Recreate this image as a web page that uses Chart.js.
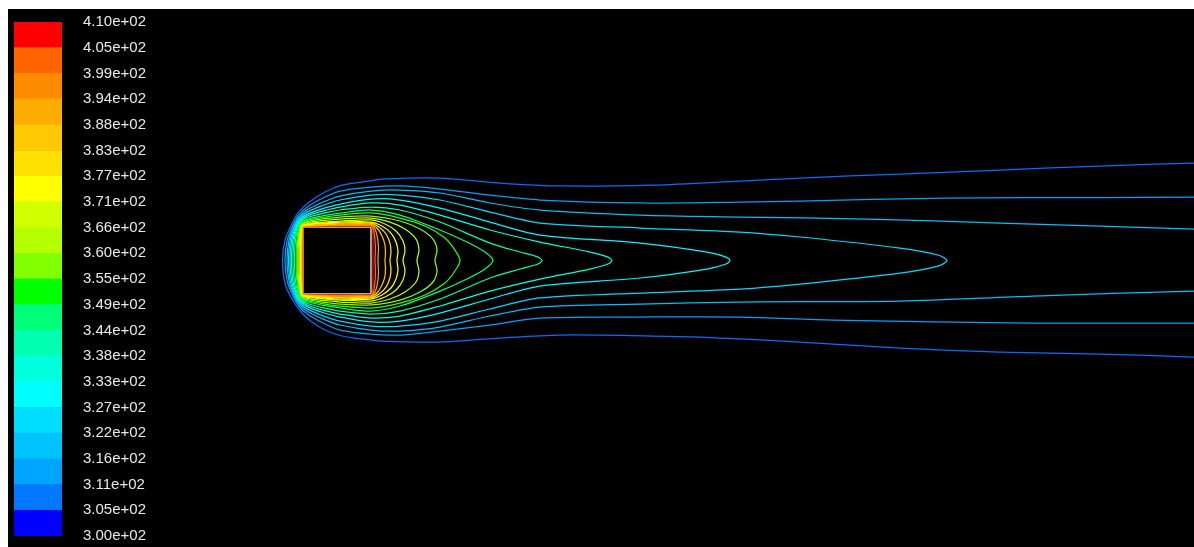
<!DOCTYPE html>
<html>
<head>
<meta charset="utf-8">
<title>Contours of Static Temperature (k)</title>
<script src="https://cdn.jsdelivr.net/npm/chart.js@4/dist/chart.umd.min.js"></script>
<style>
  html, body { margin: 0; padding: 0; background: #ffffff; }
  #frame { position: absolute; left: 8px; top: 9px; width: 1186px; height: 538px; background: #000000; }
  #field { position: absolute; left: 8px; top: 9px; }
  #legendBar { position: absolute; left: 0; top: 0; }
</style>
</head>
<body>
<div id="frame"></div>
<canvas id="field" width="1186" height="538"></canvas>
<canvas id="legendBar" width="200" height="547"></canvas>
<script>
// ---- colour scale (K) ----
const levels = [300, 305.5, 311, 316.5, 322, 327.5, 333, 338.5, 344, 349.5, 355,
                360.5, 366, 371.5, 377, 382.5, 388, 393.5, 399, 404.5, 410];
const tickLabels = ['3.00e+02', '3.05e+02', '3.11e+02', '3.16e+02', '3.22e+02', '3.27e+02', '3.33e+02',
                    '3.38e+02', '3.44e+02', '3.49e+02', '3.55e+02', '3.60e+02', '3.66e+02', '3.71e+02',
                    '3.77e+02', '3.83e+02', '3.88e+02', '3.94e+02', '3.99e+02', '4.05e+02', '4.10e+02'];
const bandColors = ['rgb(0,0,255)', 'rgb(0,120,255)', 'rgb(0,165,255)', 'rgb(0,195,255)', 'rgb(0,222,255)',
                    'rgb(0,255,255)', 'rgb(0,255,220)', 'rgb(0,255,175)', 'rgb(0,255,120)', 'rgb(0,255,0)',
                    'rgb(130,255,0)', 'rgb(180,255,0)', 'rgb(210,255,0)', 'rgb(255,255,0)', 'rgb(255,225,0)',
                    'rgb(255,200,0)', 'rgb(255,172,0)', 'rgb(255,140,0)', 'rgb(255,100,0)', 'rgb(255,0,0)'];

// ---- square cylinder wall, x/D and y/D ----
const cylinderWall = [[0, 0.493], [1, 0.493], [1, -0.493], [0, -0.493], [0, 0.493]];

// ---- isotherms, x/D and y/D; upper and lower branches start at the front stagnation line ----
const iso311Upper = [[-0.301,0],[-0.265,0.301],[-0.162,0.537],[-0.074,0.699],[0.074,0.846],[0.324,1.007],[0.574,1.110],[0.868,1.154],[1.206,1.199],[2.015,1.213],[2.897,1.140],[3.779,1.096],[5.147,1.110],[6.426,1.169],[7.309,1.213],[8.779,1.272],[10.250,1.331],[11.721,1.390],[13.103,1.434]];
const iso311Lower = [[-0.301,0],[-0.265,-0.331],[-0.162,-0.566],[-0.015,-0.772],[0.132,-0.904],[0.324,-1.022],[0.574,-1.110],[0.868,-1.154],[1.162,-1.184],[2.015,-1.199],[2.897,-1.140],[3.779,-1.096],[5.147,-1.110],[5.838,-1.125],[6.426,-1.154],[7.309,-1.199],[8.779,-1.287],[10.250,-1.346],[11.721,-1.375],[13.103,-1.419]];

const iso316Upper = [[-0.265,0],[-0.232,0.301],[-0.142,0.530],[-0.065,0.669],[0.074,0.795],[0.324,0.934],[0.544,1.022],[1.000,1.081],[1.426,1.096],[2.015,1.051],[2.750,0.963],[3.485,0.890],[4.956,0.846],[6.426,0.860],[7.309,0.875],[9.441,0.919],[11.721,0.926],[13.103,0.934]];
const iso316Lower = [[-0.265,0],[-0.232,-0.301],[-0.142,-0.530],[-0.065,-0.669],[0.074,-0.795],[0.324,-0.934],[0.544,-1.022],[1.000,-1.081],[1.426,-1.096],[2.015,-1.037],[2.750,-0.949],[3.485,-0.846],[4.956,-0.831],[6.426,-0.831],[7.794,-0.875],[10.735,-0.919],[13.103,-0.919]];

const iso322Upper = [[-0.235,0],[-0.206,0.301],[-0.126,0.525],[-0.057,0.645],[0.074,0.753],[0.324,0.872],[0.544,0.948],[1.000,1.022],[1.426,1.037],[2.015,0.993],[2.750,0.846],[3.485,0.743],[4.956,0.669],[6.426,0.640],[8.294,0.610],[10.250,0.551],[11.721,0.507],[13.103,0.463]];
const iso322Lower = [[-0.235,0],[-0.206,-0.301],[-0.126,-0.525],[-0.057,-0.645],[0.074,-0.753],[0.324,-0.872],[0.544,-0.948],[1.000,-1.022],[1.426,-1.037],[2.015,-0.978],[2.750,-0.816],[3.485,-0.684],[4.956,-0.640],[6.426,-0.610],[8.779,-0.596],[10.735,-0.522],[13.103,-0.449]];

const iso327Upper = [[-0.213,0],[-0.187,0.301],[-0.114,0.521],[-0.052,0.625],[0.074,0.719],[0.324,0.824],[0.544,0.890],[1.000,0.963],[1.426,0.963],[2.015,0.890],[2.750,0.713],[3.485,0.551],[4.956,0.478],[6.426,0.419],[7.309,0.346],[8.779,0.184],[9.338,0.081],[9.471,0]];
const iso327Lower = [[-0.213,0],[-0.187,-0.301],[-0.114,-0.521],[-0.052,-0.625],[0.074,-0.719],[0.324,-0.824],[0.544,-0.890],[1.000,-0.963],[1.426,-0.963],[2.015,-0.890],[2.750,-0.713],[3.485,-0.551],[4.956,-0.478],[6.426,-0.419],[7.309,-0.346],[8.779,-0.184],[9.338,-0.081],[9.471,0]];

const iso333Upper = [[-0.191,0],[-0.168,0.301],[-0.103,0.517],[-0.047,0.605],[0.074,0.686],[0.324,0.775],[0.544,0.831],[1.000,0.904],[1.426,0.890],[2.015,0.772],[2.750,0.566],[3.485,0.375],[4.956,0.257],[5.941,0.125],[6.221,0.051],[6.279,0]];
const iso333Lower = [[-0.191,0],[-0.168,-0.301],[-0.103,-0.517],[-0.047,-0.605],[0.074,-0.686],[0.324,-0.775],[0.544,-0.831],[1.000,-0.904],[1.426,-0.890],[2.015,-0.772],[2.750,-0.566],[3.485,-0.375],[4.956,-0.257],[5.941,-0.125],[6.221,-0.051],[6.279,0]];

const iso338Upper = [[-0.169,0],[-0.149,0.301],[-0.091,0.514],[-0.041,0.591],[0.074,0.661],[0.324,0.738],[0.544,0.787],[1.000,0.846],[1.426,0.816],[2.015,0.669],[2.750,0.449],[3.485,0.272],[4.221,0.125],[4.485,0.051],[4.544,0]];
const iso338Lower = [[-0.169,0],[-0.149,-0.301],[-0.091,-0.514],[-0.041,-0.591],[0.074,-0.661],[0.324,-0.738],[0.544,-0.787],[1.000,-0.846],[1.426,-0.816],[2.015,-0.669],[2.750,-0.449],[3.485,-0.272],[4.221,-0.125],[4.485,-0.051],[4.544,0]];

const iso344Upper = [[-0.147,0],[-0.129,0.301],[-0.079,0.511],[-0.036,0.576],[0.074,0.636],[0.324,0.701],[0.544,0.743],[1.000,0.787],[1.426,0.743],[2.015,0.566],[2.750,0.257],[3.191,0.125],[3.456,0.051],[3.515,0]];
const iso344Lower = [[-0.147,0],[-0.129,-0.301],[-0.079,-0.511],[-0.036,-0.576],[0.074,-0.636],[0.324,-0.701],[0.544,-0.743],[1.000,-0.787],[1.426,-0.743],[2.015,-0.566],[2.750,-0.257],[3.191,-0.125],[3.456,-0.051],[3.515,0]];

const iso349Upper = [[-0.125,0],[-0.110,0.301],[-0.067,0.507],[-0.031,0.561],[0.074,0.610],[0.324,0.664],[0.544,0.698],[1.000,0.743],[1.426,0.669],[2.015,0.449],[2.412,0.272],[2.676,0.125],[2.794,0]];
const iso349Lower = [[-0.125,0],[-0.110,-0.301],[-0.067,-0.507],[-0.031,-0.561],[0.074,-0.610],[0.324,-0.664],[0.544,-0.698],[1.000,-0.743],[1.426,-0.669],[2.015,-0.449],[2.412,-0.272],[2.676,-0.125],[2.794,0]];

const iso355Upper = [[-0.103,0],[-0.090,0.301],[-0.055,0.505],[-0.025,0.552],[0.074,0.594],[0.324,0.640],[0.544,0.669],[1.000,0.699],[1.426,0.625],[1.794,0.507],[2.088,0.331],[2.235,0.154],[2.309,0]];
const iso355Lower = [[-0.103,0],[-0.090,-0.301],[-0.055,-0.505],[-0.025,-0.552],[0.074,-0.594],[0.324,-0.640],[0.544,-0.669],[1.000,-0.699],[1.426,-0.625],[1.794,-0.507],[2.088,-0.331],[2.235,-0.154],[2.309,0]];

const iso360Upper = [[-0.088,0],[-0.078,0.301],[-0.047,0.503],[-0.022,0.542],[0.074,0.577],[0.324,0.615],[0.544,0.640],[1.000,0.654],[1.426,0.581],[1.721,0.463],[1.912,0.316],[1.971,0.154],[1.941,0]];
const iso360Lower = [[-0.088,0],[-0.078,-0.301],[-0.047,-0.503],[-0.022,-0.542],[0.074,-0.577],[0.324,-0.615],[0.544,-0.640],[1.000,-0.654],[1.426,-0.581],[1.721,-0.463],[1.912,-0.316],[1.971,-0.154],[1.941,0]];

const iso366Upper = [[-0.074,0],[-0.065,0.301],[-0.039,0.501],[-0.018,0.532],[0.074,0.560],[0.324,0.590],[0.544,0.610],[1.000,0.625],[1.279,0.566],[1.500,0.463],[1.662,0.316],[1.706,0.154],[1.676,0]];
const iso366Lower = [[-0.074,0],[-0.065,-0.301],[-0.039,-0.501],[-0.018,-0.532],[0.074,-0.560],[0.324,-0.590],[0.544,-0.610],[1.000,-0.625],[1.279,-0.566],[1.500,-0.463],[1.662,-0.316],[1.706,-0.154],[1.676,0]];

const iso371Upper = [[-0.059,0],[-0.052,0.301],[-0.032,0.499],[-0.014,0.522],[0.074,0.543],[0.324,0.566],[0.544,0.581],[1.000,0.596],[1.206,0.537],[1.368,0.434],[1.471,0.287],[1.500,0.140],[1.471,0]];
const iso371Lower = [[-0.059,0],[-0.052,-0.301],[-0.032,-0.499],[-0.014,-0.522],[0.074,-0.543],[0.324,-0.566],[0.544,-0.581],[1.000,-0.596],[1.206,-0.537],[1.368,-0.434],[1.471,-0.287],[1.500,-0.140],[1.471,0]];

const iso377Upper = [[-0.044,0],[-0.039,0.301],[-0.024,0.498],[-0.011,0.517],[0.074,0.535],[0.324,0.554],[0.544,0.566],[1.000,0.566],[1.162,0.507],[1.294,0.404],[1.368,0.272],[1.397,0.140],[1.382,0]];
const iso377Lower = [[-0.044,0],[-0.039,-0.301],[-0.024,-0.498],[-0.011,-0.517],[0.074,-0.535],[0.324,-0.554],[0.544,-0.566],[1.000,-0.566],[1.162,-0.507],[1.294,-0.404],[1.368,-0.272],[1.397,-0.140],[1.382,0]];

const iso382Upper = [[-0.034,0],[-0.030,0.301],[-0.018,0.497],[-0.008,0.512],[0.074,0.526],[0.324,0.542],[0.544,0.551],[1.000,0.551],[1.118,0.493],[1.221,0.390],[1.279,0.257],[1.294,0.125],[1.279,0]];
const iso382Lower = [[-0.034,0],[-0.030,-0.301],[-0.018,-0.497],[-0.008,-0.512],[0.074,-0.526],[0.324,-0.542],[0.544,-0.551],[1.000,-0.551],[1.118,-0.493],[1.221,-0.390],[1.279,-0.257],[1.294,-0.125],[1.279,0]];

const iso388Upper = [[-0.025,0],[-0.022,0.301],[-0.013,0.496],[-0.006,0.507],[0.074,0.518],[0.324,0.529],[0.544,0.537],[1.000,0.537],[1.088,0.478],[1.162,0.360],[1.206,0.228],[1.213,0.110],[1.206,0]];
const iso388Lower = [[-0.025,0],[-0.022,-0.301],[-0.013,-0.496],[-0.006,-0.507],[0.074,-0.518],[0.324,-0.529],[0.544,-0.537],[1.000,-0.537],[1.088,-0.478],[1.162,-0.360],[1.206,-0.228],[1.213,-0.110],[1.206,0]];

const iso393Upper = [[-0.018,0],[-0.016,0.301],[-0.010,0.495],[-0.004,0.502],[0.074,0.510],[0.324,0.517],[0.544,0.522],[1.000,0.522],[1.059,0.463],[1.096,0.331],[1.110,0.184],[1.103,0]];
const iso393Lower = [[-0.018,0],[-0.016,-0.301],[-0.010,-0.495],[-0.004,-0.502],[0.074,-0.510],[0.324,-0.517],[0.544,-0.522],[1.000,-0.522],[1.059,-0.463],[1.096,-0.331],[1.110,-0.184],[1.103,0]];

const iso399Upper = [[-0.012,0],[-0.010,0.301],[-0.006,0.494],[-0.003,0.499],[0.074,0.504],[0.324,0.509],[0.544,0.512],[1.000,0.512],[1.037,0.456],[1.059,0.301],[1.066,0.154],[1.059,0]];
const iso399Lower = [[-0.012,0],[-0.010,-0.301],[-0.006,-0.494],[-0.003,-0.499],[0.074,-0.504],[0.324,-0.509],[0.544,-0.512],[1.000,-0.512],[1.037,-0.456],[1.059,-0.301],[1.066,-0.154],[1.059,0]];

const iso404Upper = [[-0.006,0],[-0.005,0.301],[-0.003,0.493],[-0.001,0.496],[0.074,0.499],[0.324,0.501],[0.544,0.503],[1.000,0.503],[1.022,0.463],[1.029,0.301],[1.029,0]];
const iso404Lower = [[-0.006,0],[-0.005,-0.301],[-0.003,-0.493],[-0.001,-0.496],[0.074,-0.499],[0.324,-0.501],[0.544,-0.503],[1.000,-0.503],[1.022,-0.463],[1.029,-0.301],[1.029,0]];

// isotherm colours, taken from the colour scale
const isoColors = ['rgb(0,110,255)', 'rgb(0,160,255)', 'rgb(0,190,255)', 'rgb(0,218,255)', 'rgb(0,245,255)',
                   'rgb(0,255,220)', 'rgb(0,255,170)', 'rgb(0,255,110)', 'rgb(40,255,0)', 'rgb(130,255,0)',
                   'rgb(180,255,0)', 'rgb(215,255,0)', 'rgb(255,255,0)', 'rgb(255,225,0)', 'rgb(255,195,0)',
                   'rgb(255,160,0)', 'rgb(255,110,0)', 'rgb(255,0,0)'];

// the three outermost isotherms leave the domain at the outlet; the others close behind the cylinder
const openIsotherms = [[iso311Upper, iso311Lower], [iso316Upper, iso316Lower], [iso322Upper, iso322Lower]];
const closedIsotherms = [[iso327Upper, iso327Lower], [iso333Upper, iso333Lower], [iso338Upper, iso338Lower],
                         [iso344Upper, iso344Lower], [iso349Upper, iso349Lower], [iso355Upper, iso355Lower],
                         [iso360Upper, iso360Lower], [iso366Upper, iso366Lower], [iso371Upper, iso371Lower],
                         [iso377Upper, iso377Lower], [iso382Upper, iso382Lower], [iso388Upper, iso388Lower],
                         [iso393Upper, iso393Lower], [iso399Upper, iso399Lower], [iso404Upper, iso404Lower]];

const toXY = pts => pts.map(p => ({ x: p[0], y: p[1] }));

const fieldSets = [];
openIsotherms.forEach((pair, i) => {
  const [up, lo] = pair;
  // outlet (top) -> around the front -> outlet (bottom)
  const path = up.slice().reverse().concat(lo.slice(1));
  fieldSets.push({ data: toXY(path), borderColor: isoColors[i] });
});
closedIsotherms.forEach((pair, i) => {
  const [up, lo] = pair;
  // loop starts on the flat upper run so that both the front and the wake tip stay smooth
  const path = up.slice(5).concat(lo.slice(1, -1).reverse(), up.slice(0, 6));
  fieldSets.push({ data: toXY(path), borderColor: isoColors[i + openIsotherms.length] });
});
fieldSets.forEach(ds => Object.assign(ds, { showLine: true, borderWidth: 1.25, pointRadius: 0, tension: 0.3, fill: false }));
fieldSets.push({ data: toXY(cylinderWall), borderColor: 'rgb(225,225,225)', showLine: true,
                 borderWidth: 1.4, pointRadius: 0, tension: 0, fill: false });

new Chart(document.getElementById('field'), {
  type: 'scatter',
  data: { datasets: fieldSets },
  options: {
    responsive: false,
    animation: false,
    events: [],
    layout: { padding: 0 },
    plugins: { legend: { display: false }, tooltip: { enabled: false } },
    scales: {
      x: { type: 'linear', display: false, min: -4.338, max: 13.103 },
      y: { type: 'linear', display: false, min: -4.213, max: 3.699 }
    }
  }
});

// ---- colour scale bar ----
new Chart(document.getElementById('legendBar'), {
  type: 'bar',
  data: {
    labels: [''],
    datasets: bandColors.map((c, i) => ({
      data: [[levels[i], levels[i + 1]]],
      backgroundColor: c,
      borderWidth: 0,
      grouped: false,
      barPercentage: 1,
      categoryPercentage: 1
    }))
  },
  options: {
    responsive: false,
    animation: false,
    events: [],
    layout: { padding: { left: 14, top: 22, bottom: 11, right: 0 } },
    plugins: { legend: { display: false }, tooltip: { enabled: false } },
    scales: {
      x: { display: false },
      y: {
        position: 'right',
        min: levels[0],
        max: levels[levels.length - 1],
        afterBuildTicks: s => { s.ticks = levels.map(v => ({ value: v })); },
        afterFit: s => { s.width = 138; s.paddingTop = 0; s.paddingBottom = 0; },
        grid: { display: false, drawTicks: false },
        border: { display: false },
        ticks: {
          autoSkip: false,
          padding: 21,
          color: '#e8e8e8',
          font: { family: 'Liberation Sans', size: 15 },
          callback: (v, i) => tickLabels[i]
        }
      }
    }
  }
});
</script>
</body>
</html>
